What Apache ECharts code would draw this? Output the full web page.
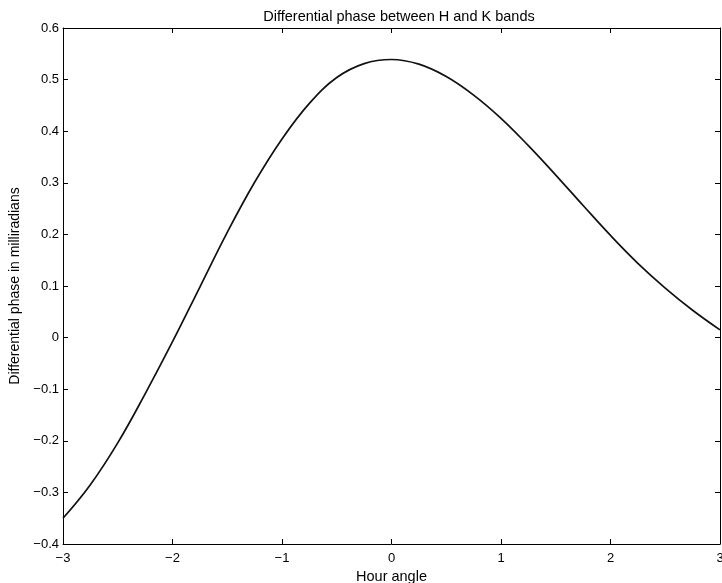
<!DOCTYPE html>
<html>
<head>
<meta charset="utf-8">
<script src="https://cdn.jsdelivr.net/npm/echarts@6/dist/echarts.min.js"></script>
<style>
html,body{margin:0;padding:0;background:#fff;}
#chart{width:722px;height:583px;}
</style>
</head>
<body>
<div id="chart"></div>
<script>
const hourAngle = [-3.0,-2.75,-2.5,-2.25,-2.0,-1.75,-1.5,-1.25,-1.0,-0.75,-0.5,-0.25,0,0.25,0.5,0.75,1.0,1.25,1.5,1.75,2.0,2.25,2.5,2.75,3.0];
const phase = [-0.350,-0.285,-0.204,-0.109,-0.008,0.098,0.204,0.301,0.385,0.454,0.504,0.531,0.539,0.530,0.506,0.470,0.425,0.372,0.315,0.256,0.198,0.144,0.096,0.053,0.015];
const titleText = 'Differential phase between H and K bands';
const xName = 'Hour angle';
const yName = 'Differential phase in milliradians';

const fontFam = '"Liberation Sans", Arial, Helvetica, sans-serif';
const fmt = v => String(Math.round(v*10)/10).replace('-', '\u2212');
const axisCommon = {
  type: 'value',
  axisLine: {show: true, onZero: false, lineStyle: {color: '#000', width: 1}},
  axisTick: {show: true, inside: true, length: 5, lineStyle: {color: '#000'}},
  splitLine: {show: false},
};
const chart = echarts.init(document.getElementById('chart'));
chart.setOption({
  animation: false,
  backgroundColor: '#fff',
  title: {text: titleText, left: 394, textAlign: 'center', top: 4,
    textStyle: {fontFamily: fontFam, fontSize: 14.5, fontWeight: 'normal', color: '#000'}},
  grid: {left: 63, right: 2, top: 28, bottom: 39, containLabel: false, outerBoundsMode: 'none'},
  xAxis: [
    Object.assign({}, axisCommon, {min: -3, max: 3, interval: 1, position: 'bottom',
      name: xName, nameLocation: 'middle', nameGap: 23,
      nameTextStyle: {fontFamily: fontFam, fontSize: 14.5, color: '#000'},
      axisLabel: {formatter: fmt, fontFamily: fontFam, fontSize: 13, color: '#000', margin: 8}}),
    Object.assign({}, axisCommon, {min: -3, max: 3, interval: 1, position: 'top',
      axisLabel: {show: false}})
  ],
  yAxis: [
    Object.assign({}, axisCommon, {min: -0.4, max: 0.6, interval: 0.1, position: 'left',
      name: yName, nameLocation: 'middle', nameGap: 40,
      nameTextStyle: {fontFamily: fontFam, fontSize: 14, color: '#000'},
      axisLabel: {formatter: fmt, fontFamily: fontFam, fontSize: 13, color: '#000', margin: 4}}),
    Object.assign({}, axisCommon, {min: -0.4, max: 0.6, interval: 0.1, position: 'right',
      axisLabel: {show: false}})
  ],
  series: [{
    type: 'line',
    data: hourAngle.map((x, i) => [x, phase[i]]),
    smooth: 0.4,
    showSymbol: false,
    lineStyle: {color: '#111', width: 1.7}
  }]
});
</script>
</body>
</html>
